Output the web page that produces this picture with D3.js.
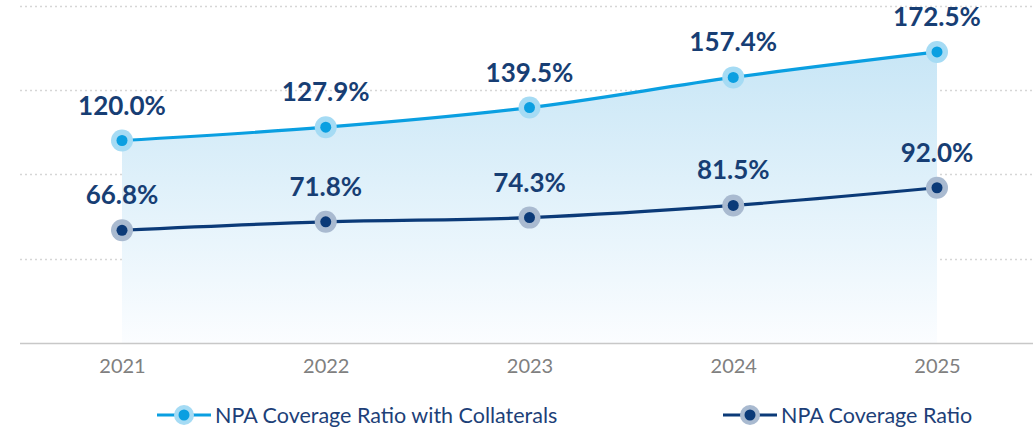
<!DOCTYPE html>
<html>
<head>
<meta charset="utf-8">
<script src="https://cdn.jsdelivr.net/npm/d3@7"></script>
<style>
  html, body { margin: 0; padding: 0; background: #ffffff; }
  svg { display: block; }
</style>
</head>
<body>
<svg id="chart" width="1033" height="433"></svg>
<script>
// Chart data
const years = ["2021", "2022", "2023", "2024", "2025"];
const withCollaterals = [120.0, 127.9, 139.5, 157.4, 172.5];
const coverage = [66.8, 71.8, 74.3, 81.5, 92.0];
const gridValues = [50, 100, 150, 200];
const seriesNames = ["NPA Coverage Ratio with Collaterals", "NPA Coverage Ratio"];

const svg = d3.select("#chart");
const W = 1033, H = 433;

const x = d3.scalePoint().domain(years).range([122, 937]);
const y = d3.scaleLinear().domain([0, 200]).range([343, 5.5]);

const colors = {
  light: "#0a9fe1",
  lightHalo: "#a5dbf4",
  dark: "#0b3a78",
  darkHalo: "#a9bad0",
  label: "#173e74",
  axisText: "#808080",
  legendText: "#1d3f78"
};
const font = "Lato, 'Open Sans', sans-serif";

// Vertical gradient for the shaded area
const defs = svg.append("defs");
const grad = defs.append("linearGradient")
  .attr("id", "areaFill")
  .attr("x1", 0).attr("y1", 0).attr("x2", 0).attr("y2", 1);
grad.append("stop").attr("offset", "0%").attr("stop-color", "#c8e6f6");
grad.append("stop").attr("offset", "100%").attr("stop-color", "#fbfdff");

// Dotted gridlines
svg.append("g")
  .selectAll("line")
  .data(gridValues)
  .join("line")
  .attr("x1", 20).attr("x2", W)
  .attr("y1", d => Math.round(y(d)) + 0.5)
  .attr("y2", d => Math.round(y(d)) + 0.5)
  .attr("stroke", "#d6d6d6")
  .attr("stroke-width", 1.3)
  .attr("stroke-dasharray", "2,3");

const upper = years.map((yr, i) => ({ yr, v: withCollaterals[i] }));
const lower = years.map((yr, i) => ({ yr, v: coverage[i] }));

const curve = d3.curveMonotoneX;

// Shaded area under the upper series
svg.append("path")
  .datum(upper)
  .attr("d", d3.area().x(d => x(d.yr)).y0(y(0)).y1(d => y(d.v)).curve(curve))
  .attr("fill", "url(#areaFill)");

// X axis
const xAxis = svg.append("g")
  .attr("transform", `translate(0,${Math.round(y(0)) + 0.5})`)
  .call(d3.axisBottom(x).tickSize(0).tickPadding(15));
xAxis.select(".domain").remove();
xAxis.append("line")
  .attr("x1", 20).attr("x2", W)
  .attr("stroke", "#c8c8c8").attr("stroke-width", 1.5);
xAxis.selectAll(".tick text")
  .attr("fill", colors.axisText)
  .style("font-family", font)
  .style("font-size", "20px");

const line = d3.line().x(d => x(d.yr)).y(d => y(d.v)).curve(curve);

function drawSeries(data, stroke, halo) {
  const g = svg.append("g");
  g.append("path")
    .datum(data)
    .attr("d", line)
    .attr("fill", "none")
    .attr("stroke", stroke)
    .attr("stroke-width", 3.2);
  g.selectAll("circle.halo")
    .data(data)
    .join("circle")
    .attr("class", "halo")
    .attr("cx", d => x(d.yr)).attr("cy", d => y(d.v))
    .attr("r", 11)
    .attr("fill", halo);
  g.selectAll("circle.dot")
    .data(data)
    .join("circle")
    .attr("class", "dot")
    .attr("cx", d => x(d.yr)).attr("cy", d => y(d.v))
    .attr("r", 5.5)
    .attr("fill", stroke);
  g.selectAll("text")
    .data(data)
    .join("text")
    .attr("x", d => x(d.yr))
    .attr("y", d => y(d.v) - 26)
    .attr("text-anchor", "middle")
    .attr("fill", colors.label)
    .style("font-family", font)
    .style("font-weight", "bold")
    .style("font-size", "26px")
    .text(d => d.v.toFixed(1) + "%");
}

drawSeries(lower, colors.dark, colors.darkHalo);
drawSeries(upper, colors.light, colors.lightHalo);

// Legend
const legendItems = [
  { name: seriesNames[0], stroke: colors.light, halo: colors.lightHalo, x0: 157 },
  { name: seriesNames[1], stroke: colors.dark, halo: colors.darkHalo, x0: 723 }
];
const lg = svg.append("g");
legendItems.forEach(item => {
  const cy = 415;
  lg.append("line")
    .attr("x1", item.x0).attr("x2", item.x0 + 54)
    .attr("y1", cy).attr("y2", cy)
    .attr("stroke", item.stroke).attr("stroke-width", 3.2);
  lg.append("circle").attr("cx", item.x0 + 27).attr("cy", cy).attr("r", 10).attr("fill", item.halo);
  lg.append("circle").attr("cx", item.x0 + 27).attr("cy", cy).attr("r", 5.5).attr("fill", item.stroke);
  lg.append("text")
    .attr("x", item.x0 + 58)
    .attr("y", cy)
    .attr("dy", "0.35em")
    .attr("fill", colors.legendText)
    .style("font-family", font)
    .style("font-size", "21.5px")
    .text(item.name);
});
</script>
</body>
</html>
